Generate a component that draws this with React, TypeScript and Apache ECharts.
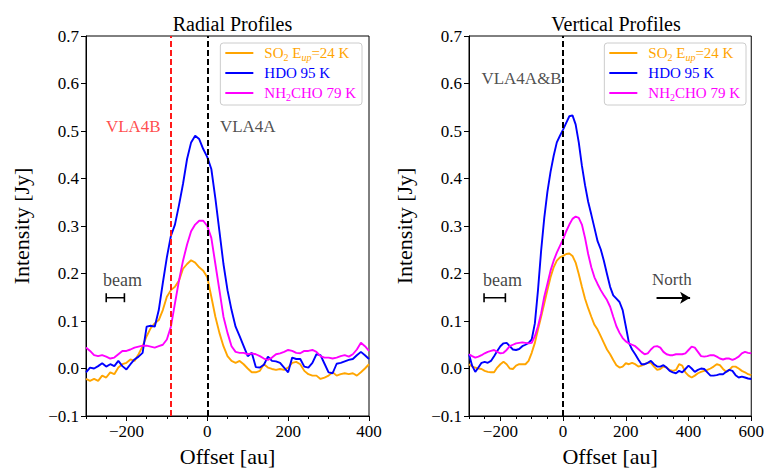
import React, { useEffect, useRef } from "react";
import * as echarts from "echarts";

const FONT = "'Liberation Serif', 'Times New Roman', serif";

// ---------- Radial profiles (left) ----------
const radialOffsets = [
  -300, -290, -280, -270, -260, -250, -240, -230, -220, -210, -200, -190, -180, -170, -160, -150, -140, -130,
  -120, -110, -100, -90, -80, -70, -60, -50, -40, -30, -20, -10, 0, 10, 20, 30, 40, 50, 60, 70, 80, 90, 100,
  110, 120, 130, 140, 150, 160, 170, 180, 190, 200, 210, 220, 230, 240, 250, 260, 270, 280, 290, 300, 310,
  320, 330, 340, 350, 360, 370, 380, 390, 400,
];
const radialSO2 = [
  -0.022, -0.026, -0.022, -0.026, -0.015, -0.019, -0.008, -0.012, 0.002, 0.009, 0.012, 0.019, 0.016, 0.03,
  0.047, 0.068, 0.085, 0.095, 0.102, 0.123, 0.151, 0.165, 0.172, 0.185, 0.21, 0.22, 0.228, 0.223, 0.213,
  0.206, 0.192, 0.151, 0.109, 0.075, 0.047, 0.026, 0.016, 0.012, 0.016, 0.009, 0.0, -0.008, -0.008, -0.005,
  0.009, 0.002, -0.001, -0.003, -0.001, -0.003, 0.002, 0.012, 0.014, 0.009, -0.005, -0.012, -0.015, -0.015,
  -0.022, -0.019, -0.015, -0.008, -0.015, -0.012, -0.01, -0.012, -0.01, -0.015, -0.008, 0.0, 0.009,
];
const radialHDO = [
  -0.008, 0.002, 0.0, 0.005, 0.011, 0.004, 0.009, 0.005, 0.016, 0.005, -0.002, 0.009, 0.019, 0.025, 0.033,
  0.088, 0.09, 0.088, 0.123, 0.18, 0.234, 0.279, 0.303, 0.344, 0.389, 0.441, 0.476, 0.49, 0.483, 0.462,
  0.445, 0.42, 0.358, 0.289, 0.22, 0.165, 0.123, 0.088, 0.068, 0.047, 0.026, 0.033, 0.003, 0.002, 0.008,
  0.025, 0.016, 0.015, 0.012, 0.002, -0.008, 0.023, 0.02, 0.02, 0.004, 0.002, 0.012, 0.03, 0.028, 0.01,
  -0.008, -0.01, 0.01, 0.012, 0.015, 0.018, 0.02, 0.028, 0.035, 0.028, 0.02,
];
const radialNH2CHO = [
  0.044, 0.037, 0.028, 0.026, 0.028, 0.025, 0.021, 0.023, 0.03, 0.037, 0.037, 0.04, 0.044, 0.046, 0.048,
  0.048, 0.046, 0.044, 0.047, 0.05, 0.061, 0.088, 0.137, 0.185, 0.227, 0.261, 0.289, 0.303, 0.311, 0.311,
  0.3, 0.275, 0.22, 0.165, 0.109, 0.075, 0.047, 0.035, 0.033, 0.033, 0.03, 0.032, 0.03, 0.026, 0.021, 0.018,
  0.023, 0.03, 0.032, 0.035, 0.039, 0.037, 0.033, 0.032, 0.037, 0.037, 0.039, 0.035, 0.026, 0.023, 0.023,
  0.021, 0.023, 0.026, 0.028, 0.025, 0.03, 0.04, 0.054, 0.047, 0.037,
];

// ---------- Vertical profiles (right) ----------
const verticalOffsets = [
  -300, -290, -280, -270, -260, -250, -240, -230, -220, -210, -200, -190, -180, -170, -160, -150, -140, -130,
  -120, -110, -100, -90, -80, -70, -60, -50, -40, -30, -20, -10, 0, 10, 20, 30, 40, 50, 60, 70, 80, 90, 100,
  110, 120, 130, 140, 150, 160, 170, 180, 190, 200, 210, 220, 230, 240, 250, 260, 270, 280, 290, 300, 310,
  320, 330, 340, 350, 360, 370, 380, 390, 400, 410, 420, 430, 440, 450, 460, 470, 480, 490, 500, 510, 520,
  530, 540, 550, 560, 570, 580, 590, 600,
];
const verticalSO2 = [
  0.009, 0.004, 0.002, 0.0, -0.001, -0.005, -0.007, -0.008, -0.008, 0.002, 0.009, 0.014, 0.009, 0.0, -0.001,
  0.006, 0.009, 0.009, 0.009, 0.016, 0.033, 0.054, 0.082, 0.109, 0.137, 0.165, 0.192, 0.213, 0.227, 0.234,
  0.237, 0.241, 0.242, 0.237, 0.223, 0.199, 0.172, 0.147, 0.127, 0.109, 0.092, 0.082, 0.068, 0.054, 0.04,
  0.03, 0.018, 0.007, 0.002, 0.004, 0.011, 0.009, 0.012, 0.009, 0.004, 0.006, 0.009, 0.012, 0.012, 0.004,
  -0.003, -0.001, 0.004, 0.002, -0.003, -0.005, -0.003, 0.009, 0.006, -0.008, -0.015, -0.019, -0.015, -0.01,
  -0.007, -0.005, -0.003, 0.0, 0.004, 0.009, 0.007, -0.001, -0.007, -0.003, 0.004, 0.004, 0.0, -0.005,
  -0.008, -0.012, -0.014,
];
const verticalHDO = [
  0.03, 0.006, -0.007, 0.002, 0.012, 0.014, 0.012, 0.016, 0.026, 0.037, 0.047, 0.053, 0.054, 0.047, 0.04,
  0.039, 0.041, 0.047, 0.05, 0.054, 0.061, 0.095, 0.165, 0.248, 0.317, 0.372, 0.414, 0.448, 0.476, 0.49,
  0.503, 0.517, 0.531, 0.533, 0.514, 0.476, 0.427, 0.386, 0.351, 0.324, 0.296, 0.268, 0.251, 0.227, 0.199,
  0.172, 0.154, 0.147, 0.14, 0.123, 0.089, 0.054, 0.04, 0.03, 0.019, 0.009, 0.009, 0.012, 0.016, 0.009,
  0.004, 0.004, 0.007, 0.002, -0.005, -0.008, -0.01, -0.005, -0.008, -0.001, 0.006, 0.0, -0.007, -0.003, 0.0,
  -0.001, -0.008, -0.015, -0.015, -0.014, -0.012, -0.012, -0.007, -0.003, -0.005, -0.014, -0.019, -0.017,
  -0.019, -0.021, -0.022,
];
const verticalNH2CHO = [
  0.03, 0.026, 0.023, 0.025, 0.028, 0.032, 0.035, 0.037, 0.039, 0.035, 0.032, 0.033, 0.039, 0.047, 0.05,
  0.053, 0.054, 0.055, 0.054, 0.053, 0.054, 0.068, 0.089, 0.116, 0.151, 0.178, 0.206, 0.227, 0.244, 0.258,
  0.272, 0.289, 0.303, 0.315, 0.32, 0.317, 0.303, 0.275, 0.241, 0.213, 0.192, 0.178, 0.165, 0.154, 0.144,
  0.13, 0.109, 0.089, 0.075, 0.064, 0.057, 0.053, 0.05, 0.047, 0.041, 0.035, 0.03, 0.032, 0.04, 0.046, 0.047,
  0.044, 0.035, 0.03, 0.028, 0.028, 0.03, 0.03, 0.03, 0.032, 0.039, 0.046, 0.044, 0.035, 0.026, 0.025, 0.026,
  0.028, 0.028, 0.025, 0.021, 0.019, 0.021, 0.021, 0.018, 0.021, 0.025, 0.032, 0.035, 0.033, 0.032,
];

// ---------- ticks ----------
const radialMajorTicks = [-200, 0, 200, 400];
const verticalMajorTicks = [-200, 0, 200, 400, 600];

// ---------- annotations ----------
const sourceLines = [
  { offset: -90, color: "#ff1a1a" },
  { offset: 0, color: "#000000" },
];
const radialTexts = [
  { name: "VLA4B", pos: [-252, 0.51], color: "#ff2020", size: 17 },
  { name: "VLA4A", pos: [30, 0.51], color: "#222222", size: 17 },
  { name: "beam", pos: [-259, 0.187], color: "#111111", size: 18 },
];
const verticalTexts = [
  { name: "VLA4A&B", pos: [-262, 0.61], color: "#222222", size: 17 },
  { name: "beam", pos: [-257, 0.187], color: "#111111", size: 18 },
  { name: "North", pos: [282, 0.187], color: "#111111", size: 17 },
];
const radialBeam = [
  [-250, 0.149],
  [-205, 0.149],
];
const verticalBeam = [
  [-252, 0.149],
  [-184, 0.149],
];
const northArrow = [
  [298, 0.149],
  [405, 0.149],
];

const COLORS: Record<string, string> = { SO2: "#ffa500", HDO: "#0000ff", NH2CHO: "#ff00ff" };
const LEGEND_TEXT: Record<string, string> = {
  SO2: "{sp| }SO{sub|2} E{isub|up}=24 K",
  HDO: "{sp| }HDO 95 K",
  NH2CHO: "{sp| }NH{sub|2}CHO 79 K",
};

function zip(xs: number[], ys: number[]) {
  return xs.map((x, i) => [x, ys[i]]);
}

function fmtX(v: number) {
  return v < 0 ? "\u2212" + Math.abs(v) : String(v);
}
function fmtY(v: number) {
  const r = Math.round(v * 10) / 10;
  if (Math.abs(r) < 1e-9) return "0.0";
  return r < 0 ? "\u2212" + Math.abs(r).toFixed(1) : r.toFixed(1);
}

function richFor(color: string) {
  return {
    sp: { width: 6, fontSize: 15, color },
    sub: { fontSize: 10, lineHeight: 10, verticalAlign: "bottom", color, fontFamily: FONT },
    isub: { fontSize: 10, lineHeight: 10, verticalAlign: "bottom", fontStyle: "italic", color, fontFamily: FONT },
  };
}

function legendFor(right: number) {
  return {
    right,
    top: 43,
    orient: "vertical",
    icon: "rect",
    itemWidth: 28,
    itemHeight: 2,
    itemGap: 2,
    padding: [1, 6, 3, 5],
    backgroundColor: "rgba(255,255,255,0.8)",
    borderColor: "#cccccc",
    borderWidth: 1,
    borderRadius: 3,
    selectedMode: false,
    formatter: (name: string) => LEGEND_TEXT[name],
    textStyle: { fontFamily: FONT, fontSize: 15, lineHeight: 18 },
    data: Object.keys(COLORS).map((n) => ({
      name: n,
      icon: "rect",
      itemStyle: { color: COLORS[n] },
      textStyle: { color: COLORS[n], fontFamily: FONT, fontSize: 15, lineHeight: 18, rich: richFor(COLORS[n]) },
    })),
  };
}

function xAxesFor(gridIndex: number, min: number, max: number, majors: number[]) {
  return [
    {
      gridIndex,
      type: "value",
      position: "bottom",
      min,
      max,
      interval: 50,
      axisLine: { show: true, onZero: false, lineStyle: { color: "#000", width: 1 } },
      axisTick: { show: true, customValues: majors, length: 5, lineStyle: { color: "#000", width: 1 } },
      axisLabel: {
        customValues: majors,
        formatter: fmtX,
        fontFamily: FONT,
        fontSize: 17,
        color: "#000",
        margin: 7,
      },
      splitLine: { show: false },
      name: "Offset [au]",
      nameLocation: "middle",
      nameGap: 29,
      nameTextStyle: { fontFamily: FONT, fontSize: 22, color: "#000" },
    },
    {
      gridIndex,
      type: "value",
      position: "bottom",
      min,
      max,
      interval: 50,
      axisLine: { show: false, onZero: false },
      axisTick: { show: true, length: 3, lineStyle: { color: "#000", width: 1 } },
      axisLabel: { show: false },
      splitLine: { show: false },
    },
  ];
}

function yAxisFor(gridIndex: number) {
  return {
    gridIndex,
    type: "value",
    min: -0.1,
    max: 0.7,
    interval: 0.1,
    axisLine: { show: true, onZero: false, lineStyle: { color: "#000", width: 1 } },
    axisTick: { show: true, length: 5, lineStyle: { color: "#000", width: 1 } },
    axisLabel: { formatter: fmtY, fontFamily: FONT, fontSize: 17, color: "#000", margin: 7 },
    splitLine: { show: false },
    name: "Intensity [Jy]",
    nameLocation: "middle",
    nameGap: 54,
    nameTextStyle: { fontFamily: FONT, fontSize: 22, color: "#000" },
  };
}

function profileSeries(xAxisIndex: number, yAxisIndex: number, xs: number[], so2: number[], hdo: number[], nh: number[]) {
  const mk = (name: string, ys: number[]) => ({
    name,
    type: "line",
    xAxisIndex,
    yAxisIndex,
    data: zip(xs, ys),
    symbol: "none",
    showSymbol: false,
    color: COLORS[name],
    lineStyle: { color: COLORS[name], width: 1.9 },
    z: 3,
  });
  return [mk("SO2", so2), mk("HDO", hdo), mk("NH2CHO", nh)];
}

function textSeries(xAxisIndex: number, yAxisIndex: number, texts: typeof radialTexts) {
  return {
    type: "scatter",
    xAxisIndex,
    yAxisIndex,
    symbol: "circle",
    symbolSize: 1,
    itemStyle: { color: "rgba(0,0,0,0)" },
    silent: true,
    z: 5,
    data: texts.map((t) => ({
      name: t.name,
      value: t.pos,
      label: {
        show: true,
        position: "right",
        distance: 0,
        formatter: t.name,
        color: t.color,
        fontFamily: FONT,
        fontSize: t.size,
      },
    })),
  };
}

function beamSeries(xAxisIndex: number, yAxisIndex: number, beam: number[][], lines: typeof sourceLines, arrow?: number[][]) {
  const s: any = {
    type: "line",
    xAxisIndex,
    yAxisIndex,
    data: beam,
    symbol: "rect",
    symbolSize: [1.6, 9],
    showSymbol: true,
    color: "#000",
    itemStyle: { color: "#000" },
    lineStyle: { color: "#000", width: 1.6 },
    silent: true,
    z: 2,
    markLine: {
      silent: true,
      symbol: "none",
      animation: false,
      label: { show: false },
      data: lines.map((l) => ({
        xAxis: l.offset,
        lineStyle: { color: l.color, width: 2, type: [6, 3] },
      })),
    },
  };
  if (arrow) {
    s.markLine.data.push([
      { coord: arrow[0], symbol: "none", lineStyle: { color: "#000", width: 2, type: "solid" } },
      { coord: arrow[1], symbol: "arrow", symbolSize: [9, 10] },
    ]);
  }
  return s;
}

export default function App() {
  const ref = useRef<HTMLDivElement>(null);
  useEffect(() => {
    if (!ref.current) return;
    const chart = echarts.init(ref.current, undefined, { renderer: "svg" });
    const option: any = {
      animation: false,
      backgroundColor: "#ffffff",
      textStyle: { fontFamily: FONT },
      title: [
        {
          text: "Radial Profiles",
          left: 227.5,
          top: 9,
          textAlign: "center",
          textStyle: { fontFamily: FONT, fontSize: 20, fontWeight: "normal", color: "#000" },
        },
        {
          text: "Vertical Profiles",
          left: 611,
          top: 9,
          textAlign: "center",
          textStyle: { fontFamily: FONT, fontSize: 20, fontWeight: "normal", color: "#000" },
        },
      ],
      legend: [legendFor(405), legendFor(21)],
      grid: [
        { left: 86, top: 36, width: 283, height: 385, show: true, borderColor: "#000", borderWidth: 1, backgroundColor: "transparent", containLabel: false },
        { left: 469, top: 36, width: 284, height: 385, show: true, borderColor: "#000", borderWidth: 1, backgroundColor: "transparent", containLabel: false },
      ],
      xAxis: [...xAxesFor(0, -300, 400, radialMajorTicks), ...xAxesFor(1, -300, 600, verticalMajorTicks)],
      yAxis: [yAxisFor(0), yAxisFor(1)],
      series: [
        beamSeries(0, 0, radialBeam, sourceLines),
        ...profileSeries(0, 0, radialOffsets, radialSO2, radialHDO, radialNH2CHO),
        textSeries(0, 0, radialTexts),
        beamSeries(2, 1, verticalBeam, [sourceLines[1]], northArrow),
        ...profileSeries(2, 1, verticalOffsets, verticalSO2, verticalHDO, verticalNH2CHO),
        textSeries(2, 1, verticalTexts),
      ],
    };
    chart.setOption(option);
    return () => chart.dispose();
  }, []);
  return <div ref={ref} style={{ position: "fixed", left: 0, top: 0, width: 767, height: 472 }} />;
}
